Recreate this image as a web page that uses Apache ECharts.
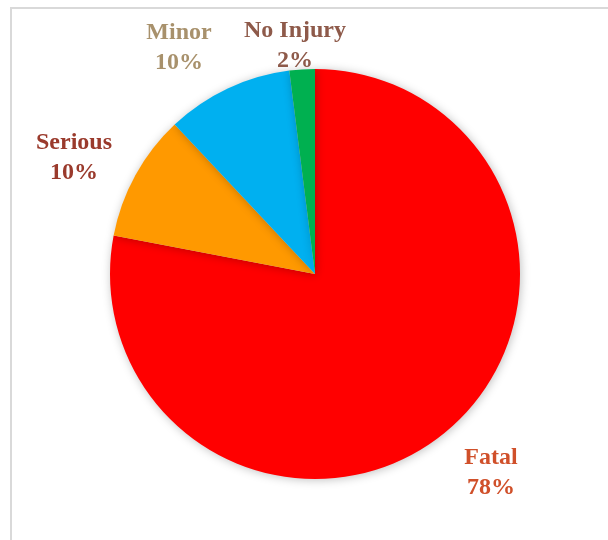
<!DOCTYPE html>
<html>
<head>
<meta charset="utf-8">
<script src="https://cdn.jsdelivr.net/npm/echarts@6/dist/echarts.min.js"></script>
<style>
  html, body { margin: 0; padding: 0; background: #fff; }
  #chart { width: 608px; height: 540px; }
</style>
</head>
<body>
<div id="chart"></div>
<script>
// injury severity shares
const categories = ["Fatal", "Serious", "Minor", "No Injury"];
const shares = [78, 10, 10, 2];
const sliceColors = ["#FF0000", "#FF9900", "#00B0F0", "#00B050"];
const labelColors = ["#D0502A", "#9A3A2C", "#A8916C", "#8E5A4A"];

// where each label block sits (centre of the two lines)
const labelSpots = [[491, 473], [74, 158], [179, 48], [295, 46]];

const chart = echarts.init(document.getElementById("chart"));

chart.setOption({
  animation: false,
  graphic: [
    {
      type: "rect",
      shape: { x: 11, y: 8, width: 640, height: 600 },
      style: { fill: "none", stroke: "#D9D9D9", lineWidth: 2 },
      silent: true,
    },
  ],
  series: [
    {
      type: "pie",
      center: [315, 274],
      radius: [0, 205],
      startAngle: 90,
      clockwise: true,
      percentPrecision: 0,
      data: categories.map((name, i) => ({
        name,
        value: shares[i],
        itemStyle: { color: sliceColors[i] },
        label: { color: labelColors[i] },
      })),
      itemStyle: {
        borderWidth: 0,
        shadowBlur: 10,
        shadowColor: "rgba(0,0,0,0.25)",
        shadowOffsetX: 1,
        shadowOffsetY: 1,
      },
      label: {
        show: true,
        position: "outside",
        formatter: "{b}\n{d}%",
        fontFamily: "Liberation Serif",
        fontWeight: "bold",
        fontSize: 24,
        lineHeight: 30,
        align: "center",
      },
      labelLine: { show: false },
      labelLayout: (params) => {
        const p = labelSpots[params.dataIndex];
        return { x: p[0], y: p[1], align: "center", verticalAlign: "middle" };
      },
      emphasis: { disabled: true },
    },
  ],
});
</script>
</body>
</html>
